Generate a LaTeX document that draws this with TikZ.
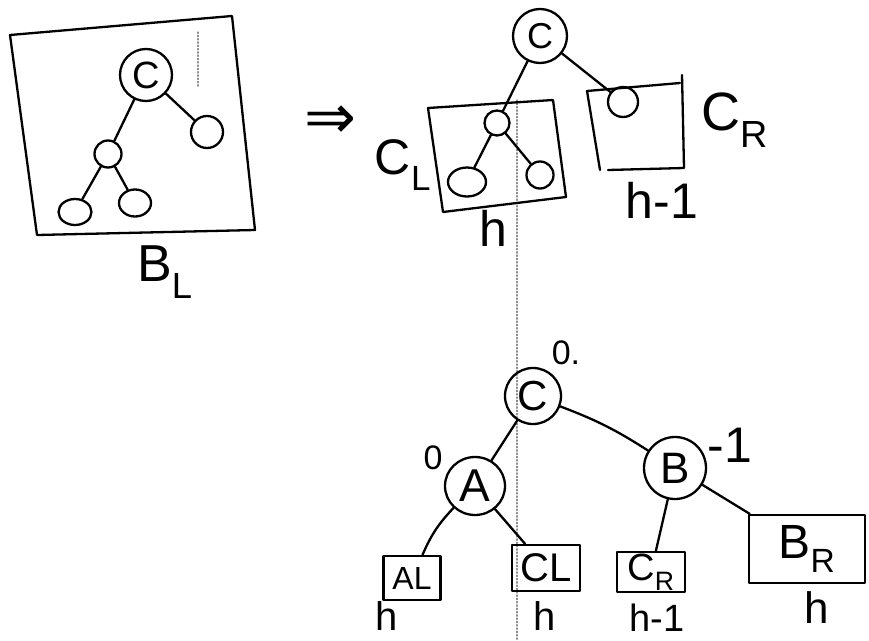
\documentclass[tikz,border=0pt]{standalone}
\usepackage{fontspec}
\setmainfont{Liberation Sans}
\newfontfamily\djv{DejaVu Sans}
\usetikzlibrary{shapes.geometric}
\newcommand{\fs}[1]{\fontsize{#1}{#1}\selectfont}
\begin{document}
\begin{tikzpicture}[x=1pt,y=-1pt, line width=2.3pt, line join=round, line cap=round,
  nd/.style={draw, circle, inner sep=0pt},
  ov/.style={draw, ellipse, inner sep=0pt},
  bx/.style={draw, rectangle, inner sep=0pt},
  txt/.style={inner sep=0pt},
  dots/.style={black!45, dotted, line width=1.3pt}]
\useasboundingbox[fill=white] (0,0) rectangle (869,640);

% ---------- left panel: B_L ----------
\coordinate (b1) at (10,35);
\coordinate (b2) at (232,16);
\coordinate (b3) at (255,230);
\coordinate (b4) at (37,235);
\draw (b1) -- (b2) -- (b3) -- (b4) -- cycle;
\draw[dots] (198,32) -- (198,88);
\node[nd, minimum size=52, font=\fs{38}] (lc) at (146,75) {C};
\node[nd, minimum size=32] (lr) at (207,132) {};
\node[nd, minimum size=27] (ll) at (108,154) {};
\node[ov, minimum width=33, minimum height=26] (lll) at (75,212) {};
\node[ov, minimum width=32, minimum height=27] (llr) at (135,203) {};
\draw (lc) -- (ll);
\draw (lc) -- (lr);
\draw (ll) -- (lll);
\draw (ll) -- (llr);
\node[txt, font=\fs{52}] (blbl) at (165,272) {B\textsubscript{L}};

% ---------- arrow ----------
\node[txt, font=\djv\fs{62}] (arr) at (330,122) {⇒};

% ---------- top right tree ----------
\draw[dots] (517,100) -- (517,640);
\coordinate (c1) at (428,108);
\coordinate (c2) at (553,100);
\coordinate (c3) at (566,197);
\coordinate (c4) at (443,212);
\draw (c1) -- (c2) -- (c3) -- (c4) -- cycle;
\node[nd, minimum size=54, font=\fs{36}] (tc) at (540,36) {C};
\node[nd, minimum size=25] (tcl) at (497,123) {};
\node[ov, minimum width=38, minimum height=29] (tcll) at (467,182) {};
\node[nd, minimum size=27] (tclr) at (540,175) {};
\node[nd, minimum size=30] (tcr) at (623,102) {};
\draw (tc) -- (tcl);
\draw (tcl) -- (tcll);
\draw (tcl) -- (tclr);
\draw (tc) -- (tcr);
\coordinate (r1) at (600,170);
\coordinate (r2) at (587,91);
\coordinate (r3) at (680,83);
\coordinate (r4) at (682,75);
\coordinate (r5) at (684,168);
\coordinate (r6) at (608,170);
\draw (r1) -- (r2) -- (r3);
\draw (r4) -- (r5) -- (r6);
\node[txt, font=\fs{50}] (lcl) at (403,165) {C\textsubscript{L}};
\node[txt, font=\fs{50}] (lh1) at (493,228) {h};
\node[txt, font=\fs{54}] (lcr) at (735,120) {C\textsubscript{R}};
\node[txt, font=\fs{50}] (lh2) at (662,200) {h-1};

% ---------- bottom tree ----------
\node[nd, minimum size=56, font=\fs{42}] (bc) at (533,396) {C};
\node[ov, minimum width=60, minimum height=58, font=\fs{46}] (ba) at (475,486) {A};
\node[nd, minimum size=62, font=\fs{44}] (bb) at (675,468) {B};
\node[bx, minimum width=57, minimum height=44, font=\fs{32}] (bal) at (412,578) {AL};
\node[bx, minimum width=68, minimum height=46, font=\fs{40}] (bcl) at (546,568) {CL};
\node[bx, minimum width=68, minimum height=40, font=\fs{38}] (bcr) at (651,572) {C\textsubscript{R}};
\node[bx, minimum width=116, minimum height=68, font=\fs{48}] (bbr) at (807,549) {B\textsubscript{R}};
\draw (bc) -- (ba);
\draw (bc) to[bend left=6] (bb);
\draw (ba) to[bend right=10] (bal);
\draw (ba) -- (bcl);
\draw (bb) -- (bcr);
\draw (bb) -- (bbr);
\node[txt, font=\fs{34}] (z1) at (566,353) {0.};
\node[txt, font=\fs{34}] (z2) at (433,458) {0};
\node[txt, font=\fs{50}] (m1) at (730,445) {-1};
\node[txt, font=\fs{40}] (hh1) at (387,616) {h};
\node[txt, font=\fs{40}] (hh2) at (545,616) {h};
\node[txt, font=\fs{38}] (hh3) at (657,618) {h-1};
\node[txt, font=\fs{44}] (hh4) at (817,608) {h};
\end{tikzpicture}
\end{document}
